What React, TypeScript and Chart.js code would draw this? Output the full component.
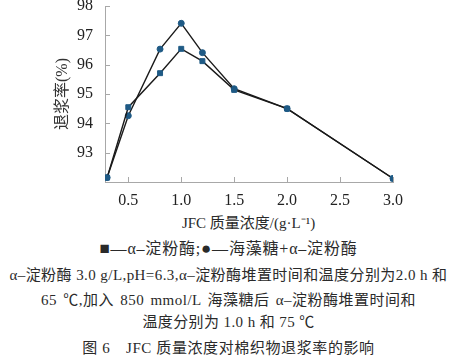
import React, { useEffect, useRef } from "react";
import { Chart, registerables } from "chart.js";

Chart.register(...registerables);

const concentrations = [0.3, 0.5, 0.8, 1.0, 1.2, 1.5, 2.0, 3.0];
const amylaseOnly = [92.15, 94.55, 95.71, 96.54, 96.12, 95.14, 94.5, 92.12];
const trehaloseAmylase = [92.15, 94.26, 96.53, 97.41, 96.41, 95.18, 94.5, 92.12];
const xTicks = [0.5, 1.0, 1.5, 2.0, 2.5, 3.0];
const yTicks = [92, 93, 94, 95, 96, 97, 98];

const seriesNames = ["α–淀粉酶", "海藻糖+α–淀粉酶"];
const xTitle = "JFC 质量浓度/(g·L⁻¹)";
const yTitle = "退浆率(%)";
const captionLines = [
  "α–淀粉酶 3.0 g/L,pH=6.3,α–淀粉酶堆置时间和温度分别为2.0 h 和",
  "65 ℃,加入 850 mmol/L 海藻糖后 α–淀粉酶堆置时间和",
  "温度分别为 1.0 h 和 75 ℃",
];
const figTitle = "图 6　JFC 质量浓度对棉织物退浆率的影响";

const FONT = "'Liberation Serif', 'Noto Sans CJK SC', serif";
const MARK = "#1f5a85";
const LINE = "#1a1a1a";
const AXIS = "#a8a8a8";

const innerTicks = {
  id: "innerTicks",
  afterDraw(chart: any) {
    const { ctx, scales } = chart;
    const x = scales.x;
    const y = scales.y;
    ctx.save();
    ctx.strokeStyle = AXIS;
    ctx.lineWidth = 1;
    ctx.beginPath();
    yTicks.forEach((v) => {
      const py = Math.round(y.getPixelForValue(v)) + 0.5;
      ctx.moveTo(x.left, py);
      ctx.lineTo(x.left + 5, py);
    });
    xTicks.forEach((v) => {
      const px = Math.round(x.getPixelForValue(v)) + 0.5;
      ctx.moveTo(px, y.bottom);
      ctx.lineTo(px, y.bottom - 5);
    });
    ctx.stroke();
    ctx.restore();
  },
};

export default function App() {
  const ref = useRef<HTMLCanvasElement>(null);

  useEffect(() => {
    if (!ref.current) return;
    const mk = (vals: number[]) => concentrations.map((c, i) => ({ x: c, y: vals[i] }));
    const chart = new Chart(ref.current, {
      type: "line",
      data: {
        datasets: [
          {
            label: seriesNames[0],
            data: mk(amylaseOnly),
            borderColor: LINE,
            borderWidth: 1.4,
            pointStyle: "rect",
            pointRadius: 3.5,
            pointBackgroundColor: MARK,
            pointBorderColor: MARK,
            pointBorderWidth: 1,
            tension: 0,
          },
          {
            label: seriesNames[1],
            data: mk(trehaloseAmylase),
            borderColor: LINE,
            borderWidth: 1.4,
            pointStyle: "circle",
            pointRadius: 3,
            pointBackgroundColor: MARK,
            pointBorderColor: MARK,
            pointBorderWidth: 1,
            tension: 0,
          },
        ],
      },
      options: {
        animation: false,
        responsive: false,
        layout: { padding: { left: 0, right: 64, top: 6, bottom: 0 } },
        plugins: { legend: { display: false }, tooltip: { enabled: false } },
        scales: {
          x: {
            type: "linear",
            min: 0.28,
            max: 3.0,
            afterBuildTicks: (s: any) => {
              s.ticks = xTicks.map((v) => ({ value: v }));
            },
            afterFit: (s: any) => {
              s.height = 30;
              s.paddingLeft = 0;
              s.paddingRight = 0;
            },
            grid: { display: false, drawTicks: false },
            border: { display: true, color: AXIS, width: 1 },
            ticks: {
              padding: 9,
              color: "#222",
              font: { family: FONT, size: 16 },
              maxRotation: 0,
              autoSkip: false,
              callback: (v: any) => Number(v).toFixed(1),
            },
          },
          y: {
            min: 92,
            max: 98,
            afterBuildTicks: (s: any) => {
              s.ticks = yTicks.map((v) => ({ value: v }));
            },
            afterFit: (s: any) => {
              s.width = 105;
              s.paddingTop = 0;
              s.paddingBottom = 0;
            },
            grid: { display: false, drawTicks: false },
            border: { display: true, color: AXIS, width: 1 },
            title: {
              display: true,
              text: yTitle,
              color: "#333",
              font: { family: FONT, size: 16 },
              padding: { top: 53, bottom: 0 },
            },
            ticks: {
              padding: 12,
              color: "#222",
              font: { family: FONT, size: 16 },
              autoSkip: false,
              callback: (v: any) => (v === 92 ? "" : String(v)),
            },
          },
        },
      },
      plugins: [innerTicks],
    });
    return () => chart.destroy();
  }, []);

  const textStyle: React.CSSProperties = {
    position: "absolute",
    left: 0,
    width: 457,
    textAlign: "center",
    fontFamily: FONT,
    fontSize: 15,
    color: "#2a2a2a",
    whiteSpace: "nowrap",
    lineHeight: "18px",
  };

  return (
    <div style={{ position: "absolute", left: 0, top: 0, width: 457, height: 362, background: "#fff", overflow: "hidden" }}>
      <canvas ref={ref} width={457} height={212} style={{ position: "absolute", left: 0, top: 0 }} />
      <div style={{ ...textStyle, top: 214, left: 20, fontSize: 15 }}>{xTitle}</div>
      <div style={{ ...textStyle, top: 240, fontSize: 16, letterSpacing: 0.8 }}>
        <span style={{ fontSize: 17 }}>■</span>—{seriesNames[0]};<span style={{ fontSize: 17 }}>●</span>—{seriesNames[1]}
      </div>
      <div style={{ ...textStyle, top: 266, letterSpacing: 0.43 }}>{captionLines[0]}</div>
      <div style={{ ...textStyle, top: 291, letterSpacing: 0.5, wordSpacing: 2 }}>{captionLines[1]}</div>
      <div style={{ ...textStyle, top: 313, letterSpacing: 0.4 }}>{captionLines[2]}</div>
      <div style={{ ...textStyle, top: 339, letterSpacing: 0.6 }}>{figTitle}</div>
    </div>
  );
}
